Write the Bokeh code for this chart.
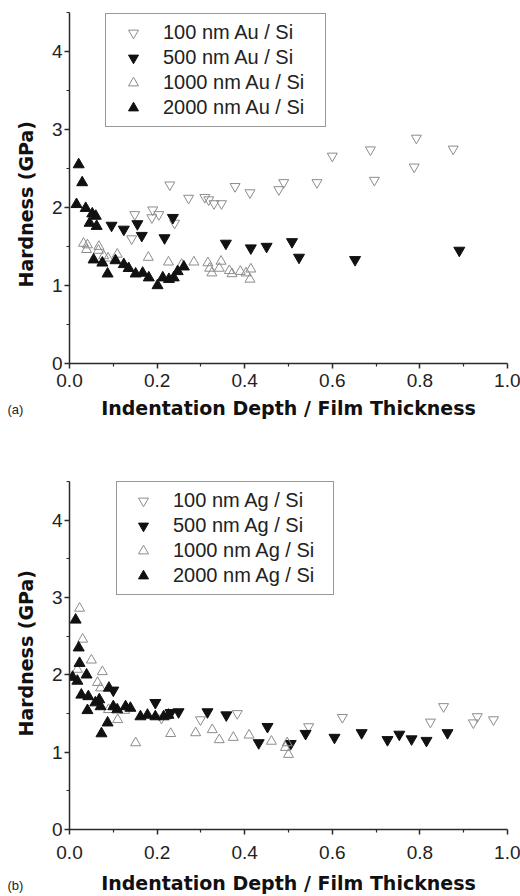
from bokeh.plotting import figure
from bokeh.layouts import column
from bokeh.models import Range1d, FixedTicker, PrintfTickFormatter, Legend, LegendItem, Title
from bokeh.embed import file_html
from bokeh.resources import INLINE

# ---------------- data (a) Au / Si ----------------
au_labels = ["100 nm Au / Si", "500 nm Au / Si", "1000 nm Au / Si", "2000 nm Au / Si"]
au100_x = [0.149, 0.142, 0.190, 0.188, 0.204, 0.229, 0.240, 0.272, 0.309, 0.318, 0.330, 0.347,
           0.378, 0.412, 0.478, 0.489, 0.565, 0.600, 0.687, 0.696, 0.792, 0.787, 0.876]
au100_y = [1.91, 1.60, 1.97, 1.87, 1.91, 2.29, 1.80, 2.12, 2.13, 2.10, 2.05, 2.05,
           2.27, 2.19, 2.23, 2.32, 2.32, 2.66, 2.74, 2.35, 2.89, 2.52, 2.75]
au500_x = [0.096, 0.124, 0.155, 0.165, 0.217, 0.236, 0.357, 0.414, 0.450, 0.508, 0.524, 0.652, 0.890]
au500_y = [1.77, 1.72, 1.79, 1.64, 1.61, 1.87, 1.54, 1.48, 1.50, 1.56, 1.36, 1.33, 1.45]
au1000_x = [0.032, 0.041, 0.039, 0.067, 0.066, 0.078, 0.088, 0.109, 0.180, 0.226, 0.256, 0.284,
            0.316, 0.320, 0.325, 0.346, 0.342, 0.365, 0.371, 0.390, 0.403, 0.414, 0.412]
au1000_y = [1.54, 1.52, 1.46, 1.50, 1.45, 1.38, 1.35, 1.40, 1.36, 1.30, 1.27, 1.30,
            1.29, 1.22, 1.16, 1.31, 1.22, 1.19, 1.15, 1.18, 1.16, 1.21, 1.08]
au2000_x = [0.021, 0.029, 0.016, 0.037, 0.052, 0.060, 0.046, 0.062, 0.055, 0.075, 0.087, 0.105,
            0.124, 0.135, 0.151, 0.167, 0.181, 0.201, 0.213, 0.227, 0.238, 0.247, 0.261]
au2000_y = [2.55, 2.32, 2.04, 1.99, 1.92, 1.89, 1.80, 1.76, 1.33, 1.29, 1.15, 1.32,
            1.27, 1.22, 1.15, 1.16, 1.10, 1.00, 1.10, 1.08, 1.10, 1.18, 1.24]

# ---------------- data (b) Ag / Si ----------------
ag_labels = ["100 nm Ag / Si", "500 nm Ag / Si", "1000 nm Ag / Si", "2000 nm Ag / Si"]
ag100_x = [0.210, 0.230, 0.299, 0.383, 0.546, 0.623, 0.824, 0.854, 0.922, 0.931, 0.968]
ag100_y = [1.44, 1.50, 1.42, 1.50, 1.33, 1.45, 1.39, 1.59, 1.38, 1.46, 1.42]
ag500_x = [0.100, 0.196, 0.231, 0.249, 0.315, 0.358, 0.452, 0.432, 0.505, 0.539, 0.605,
           0.667, 0.726, 0.753, 0.781, 0.815, 0.863]
ag500_y = [1.80, 1.64, 1.51, 1.52, 1.52, 1.48, 1.33, 1.12, 1.11, 1.24, 1.19,
           1.25, 1.16, 1.23, 1.17, 1.15, 1.25]
ag1000_x = [0.023, 0.030, 0.050, 0.075, 0.018, 0.064, 0.071, 0.089, 0.110, 0.126, 0.151,
            0.231, 0.288, 0.326, 0.342, 0.374, 0.410, 0.461, 0.493, 0.497, 0.500]
ag1000_y = [2.86, 2.46, 2.19, 2.04, 2.07, 1.90, 1.83, 1.55, 1.42, 1.54, 1.12,
            1.24, 1.25, 1.29, 1.16, 1.19, 1.22, 1.14, 1.06, 1.12, 0.97]
ag2000_x = [0.014, 0.021, 0.023, 0.007, 0.018, 0.039, 0.027, 0.043, 0.041, 0.059, 0.068,
            0.071, 0.090, 0.100, 0.109, 0.128, 0.139, 0.087, 0.073, 0.162, 0.178, 0.196,
            0.215, 0.226]
ag2000_y = [2.71, 2.35, 2.15, 1.97, 1.92, 2.00, 1.74, 1.72, 1.54, 1.64, 1.68,
            1.59, 1.83, 1.59, 1.55, 1.59, 1.57, 1.38, 1.24, 1.46, 1.48, 1.46,
            1.46, 1.48]

x_ticks = [0.0, 0.2, 0.4, 0.6, 0.8, 1.0]
x_minor = [0.1, 0.3, 0.5, 0.7, 0.9]
y_ticks = [0, 1, 2, 3, 4]
y_minor = [0.5, 1.5, 2.5, 3.5, 4.5]

GRAY = "#8c8c8c"
BLACK = "#111111"
AXIS = "#2a2a2a"


def panel(series, labels, tag, top, bottom, leg_xy, glyph_w, standoff, label_w,
          tick_standoff, title_standoff, tag_offset, tag_standoff, ytitle_offset):
    p = figure(width=520, height=448, output_backend="svg", toolbar_location=None,
               x_range=Range1d(0, 1.0), y_range=Range1d(0, 4.5),
               min_border_left=69, min_border_right=13,
               min_border_top=top, min_border_bottom=bottom)
    p.xgrid.grid_line_color = None
    p.ygrid.grid_line_color = None
    p.outline_line_color = None
    p.background_fill_color = "white"
    p.border_fill_color = "white"

    styles = [
        dict(marker="inverted_triangle", fill_color=None, line_color=GRAY, size=10),
        dict(marker="inverted_triangle", fill_color=BLACK, line_color=BLACK, size=11),
        dict(marker="triangle", fill_color=None, line_color=GRAY, size=10),
        dict(marker="triangle", fill_color=BLACK, line_color=BLACK, size=11),
    ]
    rends = []
    for (xs, ys), st in zip(series, styles):
        r = p.scatter(xs, ys, line_width=1, **st)
        rends.append(r)

    for ax in (p.xaxis[0], p.yaxis[0]):
        ax.axis_line_color = AXIS
        ax.axis_line_width = 1.5
        ax.major_tick_line_color = AXIS
        ax.minor_tick_line_color = AXIS
        ax.major_tick_line_width = 1.5
        ax.minor_tick_line_width = 1.2
        ax.major_tick_in = 0
        ax.major_tick_out = 5
        ax.minor_tick_in = 0
        ax.minor_tick_out = 3
        ax.major_label_text_font = "Liberation Sans"
        ax.major_label_text_font_size = "19px"
        ax.major_label_text_color = "#222222"
        ax.axis_label_text_font = "DejaVu Sans"
        ax.axis_label_text_font_style = "bold"
        ax.axis_label_text_font_size = "19px"
        ax.axis_label_text_color = "#111111"

    p.xaxis.ticker = FixedTicker(ticks=x_ticks, minor_ticks=x_minor)
    p.yaxis.ticker = FixedTicker(ticks=y_ticks, minor_ticks=y_minor)
    p.xaxis.formatter = PrintfTickFormatter(format="%.1f")
    p.yaxis.formatter = PrintfTickFormatter(format="%d")
    p.xaxis.major_label_standoff = tick_standoff
    p.yaxis.major_label_standoff = 2
    p.xaxis.axis_label_standoff = title_standoff
    p.xaxis.axis_label = "Indentation Depth / Film Thickness"

    # y title as a side title (lets it sit slightly off-centre like the original)
    p.add_layout(Title(text="Hardness (GPa)", align="left", offset=ytitle_offset,
                       standoff=22, vertical_align="middle",
                       text_font="DejaVu Sans", text_font_size="19px",
                       text_font_style="bold", text_color="#111111"), "left")

    items = [LegendItem(label=lab, renderers=[r]) for lab, r in zip(labels, rends)]
    leg = Legend(items=items, location=leg_xy, orientation="vertical",
                 padding=6, spacing=0, margin=0,
                 glyph_width=glyph_w, glyph_height=25, label_height=25,
                 label_width=label_w, label_standoff=standoff,
                 label_text_font="Liberation Sans", label_text_font_size="20px",
                 label_text_color="#222222",
                 border_line_color="#333333", border_line_width=1.2,
                 background_fill_color="white", background_fill_alpha=1.0)
    p.add_layout(leg, "center")

    p.add_layout(Title(text=tag, align="left", offset=tag_offset, standoff=tag_standoff,
                       vertical_align="top",
                       text_font="Liberation Sans", text_font_size="13px",
                       text_font_style="normal", text_color="#222222"), "below")
    return p


pa = panel([(au100_x, au100_y), (au500_x, au500_y), (au1000_x, au1000_y), (au2000_x, au2000_y)],
           au_labels, "(a)", 12, 85, (36, 236), 42, 9, 156, 5, 7, -62, -39, 76)
pb = panel([(ag100_x, ag100_y), (ag500_x, ag500_y), (ag1000_x, ag1000_y), (ag2000_x, ag2000_y)],
           ag_labels, "(b)", 33, 66, (47, 234), 40, 10, 154, 11, 10, -62, -38, 93)

layout = column(pa, pb, spacing=0)
open("out.html", "w").write(file_html(layout, INLINE))
